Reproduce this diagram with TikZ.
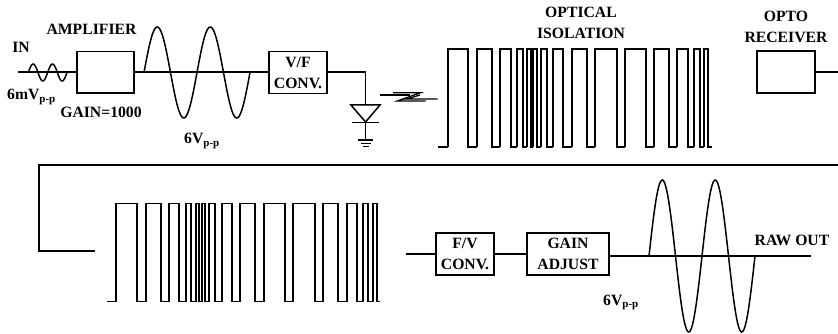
\documentclass[tikz,border=0pt]{standalone}
\usepackage{fontspec}
\setmainfont{Liberation Serif}
\newcommand{\vpp}{V\textsubscript{p-p}}
\begin{document}
\begin{tikzpicture}[x=1pt, y=-1pt, line cap=butt]
    \tikzset{
      wire/.style={line width=1.5pt},
      pulse/.style={line width=1.3pt},
      blk/.style={draw, line width=1.5pt, inner sep=0pt, align=center,
                  font=\fontsize{15.7}{21}\selectfont\bfseries},
      lbl/.style={inner sep=0pt, align=center,
                  font=\fontsize{15.7}{21}\selectfont\bfseries},
    }
    \useasboundingbox (0,0) rectangle (838,334);

    % blocks, upper row
    \node[blk, minimum width=57pt, minimum height=41.5pt] (amp) at (105.5,72.3) {};
    \node[blk, minimum width=58pt, minimum height=42pt] (vf) at (298,72.5) {V/F\\CONV.};
    \node[blk, minimum width=58pt, minimum height=42pt] (optorx) at (786,72) {};

    % blocks, lower row
    \node[blk, minimum width=58pt, minimum height=42pt] (fv) at (465,254) {\raisebox{-3pt}{F/V}\\\raisebox{-3pt}{CONV.}};
    \node[blk, minimum width=82pt, minimum height=42pt] (gainadj) at (568,254) {\raisebox{-1.5pt}{GAIN}\\\raisebox{-1.5pt}{ADJUST}};

    % free line ends
    \coordinate (in) at (18,72);
    \coordinate (optoend) at (838,72);
    \coordinate (ledtop) at (365.5,105);
    \coordinate (linkend) at (838,165);
    \coordinate (linkcorner) at (39,165);
    \coordinate (linkdown) at (39,251);
    \coordinate (linkstop) at (95,251);
    \coordinate (fvin) at (406,254);
    \coordinate (rawout) at (811,256);

    \draw[wire] (in) -- (amp.west |- in);
    \draw[wire] (amp.east |- in) -- (vf.west |- in);
    \draw[wire] (vf.east |- in) -| (ledtop);
    \draw[wire] (optorx.east) -- (optoend);
    \draw[wire] (linkend) -- (linkcorner) -- (linkdown) -- (linkstop);
    \draw[wire] (fvin) -- (fv.west);
    \draw[wire] (fv.east) -- (gainadj.west);
    \draw[wire] (gainadj.east |- rawout) -- (rawout);

    % sine traces: start/end/axis/amplitude/period
    \foreach \xa/\xb/\ymid/\amp/\per in {28.3/67/72.5/8.5/19.35, 144/250/72.5/45.5/53, 649/755/256/76/53}
      \draw[wire] plot[domain=\xa:\xb, samples=120] (\x,{\ymid-\amp*sin((\x-\xa)/\per*360)});

    % optical diode and ground
    \draw[wire] (351,105) -- (380,105) -- (365.5,122) -- cycle;
    \draw[wire] (352,122.5) -- (379,122.5);
    \draw[wire] (365.5,122.5) -- (365.5,140);
    \draw[wire] (358,140) -- (373,140);
    \draw[wire] (360.5,143.5) -- (370.5,143.5);
    \draw[wire] (362.5,146.7) -- (368.5,146.7);

    % light bolt
    \draw[pulse] (380,95) -- (410,95);
    \draw[pulse] (393,92.7) -- (420.7,92.7) -- (397.3,101) -- (425.7,101);
    \draw[pulse] (420,95) -- (406.7,99) -- (437.7,99);

    % pulse trains: rise/fall/next rise
    \draw[pulse] (438,147) -- (448,147);
    \foreach \xr/\xf/\xn in {448/468/477, 477/492/500, 500/511/517, 517/523/527, 527/531/533,
                             533/537/541, 541/547/553, 553/563/572, 572/587/595, 595/617/625,
                             625/646/654, 654/669/677, 677/688/694, 694/700/704, 704/708/712}
      \draw[pulse] (\xr,147) |- (\xf,49) |- (\xn,147);

    \draw[pulse] (107,301.5) -- (116,301.5);
    \foreach \xr/\xf/\xn in {116/137/146, 146/161/169, 169/179/186, 186/191/196, 196/199/202,
                             202/205/209, 209/215/222, 222/232/240, 240/255/264, 264/285/293,
                             293/315/323, 323/338/347, 347/357/363, 363/368/373, 373/377/380}
      \draw[pulse] (\xr,301.5) |- (\xf,203.5) |- (\xn,301.5);

    % labels
    \node[lbl, anchor=base] (inlbl) at (21,53) {IN};
    \node[lbl, anchor=base] (amplbl) at (91.5,35) {AMPLIFIER};
    \node[lbl, anchor=base west] (inlevel) at (7,100) {6m\vpp};
    \node[lbl, anchor=base] (gainlbl) at (101,117.5) {GAIN=1000};
    \node[lbl, anchor=base west] (midlevel) at (184,144) {6\vpp};
    \node[lbl] (isolbl) at (581,23) {OPTICAL\\ISOLATION};
    \node[lbl] (rxlbl) at (786,26.5) {OPTO\\RECEIVER};
    \node[lbl, anchor=base] (rawlbl) at (792,245) {RAW OUT};
    \node[lbl, anchor=base west] (outlevel) at (603,305) {6\vpp};
\end{tikzpicture}
\end{document}
